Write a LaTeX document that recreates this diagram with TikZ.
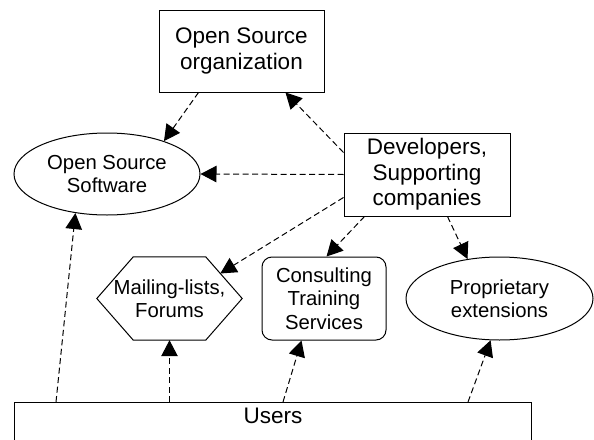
\documentclass[tikz,border=0pt]{standalone}
\usepackage{fontspec}
\setmainfont{Liberation Sans}
\usetikzlibrary{arrows.meta,shapes.geometric,calc}
\begin{document}
\begin{tikzpicture}[x=1pt,y=-1pt,
  big/.style={font=\fontsize{22.5}{25.5}\selectfont, align=center, inner sep=0pt},
  small/.style={font=\fontsize{20.3}{23.3}\selectfont, align=center, inner sep=0pt},
  box/.style={draw, line width=1pt, rectangle},
  oval/.style={draw, line width=1pt, ellipse},
  arr/.style={line width=1pt, dash pattern=on 6pt off 3.5pt, -{Triangle[length=16pt,width=16.5pt]}}]
\useasboundingbox (0,0) rectangle (594,439);
\clip (0,0) rectangle (594,439);
\fill[white] (0,0) rectangle (594,439);

\node[box,big,minimum width=165pt,minimum height=82pt] (osorg) at (241.5,51) {Open Source\\organization};
\node[oval,small,minimum width=186pt,minimum height=82pt] (oss) at (107,174) {Open Source\\Software};
\node[box,big,minimum width=166pt,minimum height=83pt] (dev) at (427,174.5) {Developers,\\Supporting\\companies};
\node[small,minimum width=145pt,minimum height=83pt] (mail) at (169.5,298.5) {Mailing-lists,\\Forums};
\draw[line width=1pt] (mail.west) -- ($(mail.north west)+(36.5,0)$) -- ($(mail.north east)+(-36.5,0)$)
  -- (mail.east) -- ($(mail.south east)+(-36.5,0)$) -- ($(mail.south west)+(36.5,0)$) -- cycle;
\node[box,small,rounded corners=10pt,minimum width=124pt,minimum height=83pt] (cons) at (324,298.5) {Consulting\\Training\\Services};
\node[oval,small,minimum width=187pt,minimum height=83pt] (prop) at (499.5,298.5) {Proprietary\\extensions};
\node[box,anchor=north west,minimum width=517pt,minimum height=100pt,
  label={[anchor=north,big,inner sep=0pt,yshift=-6pt]north:Users}] (users) at (14,402) {};

\draw[arr] ($(osorg.south west)+(40,0)$) -- (oss.30);
\draw[arr] ($(dev.north west)+(0,20)$) -- ($(osorg.south east)+(-39,0)$);
\draw[arr] (dev.west) -- (oss.east);
\draw[arr] ($(dev.south west)+(0,-19)$) -- ($($(mail.north east)+(-36.5,0)$)!0.4!(mail.east)$);
\draw[arr] ($(dev.south west)+(21,0)$) -- ($(cons.north west)+(65,0)$);
\draw[arr] ($(dev.south west)+(104,0)$) -- (prop.129);
\draw[arr] ($(users.north west)+(42,0)$) -- (oss.-129);
\draw[arr] (mail.south |- users.north) -- (mail.south);
\draw[arr] ($(users.north west)+(269,0)$) -- ($(cons.south west)+(40,0)$);
\draw[arr] ($(users.north west)+(454,0)$) -- (prop.-102);
\end{tikzpicture}
\end{document}
